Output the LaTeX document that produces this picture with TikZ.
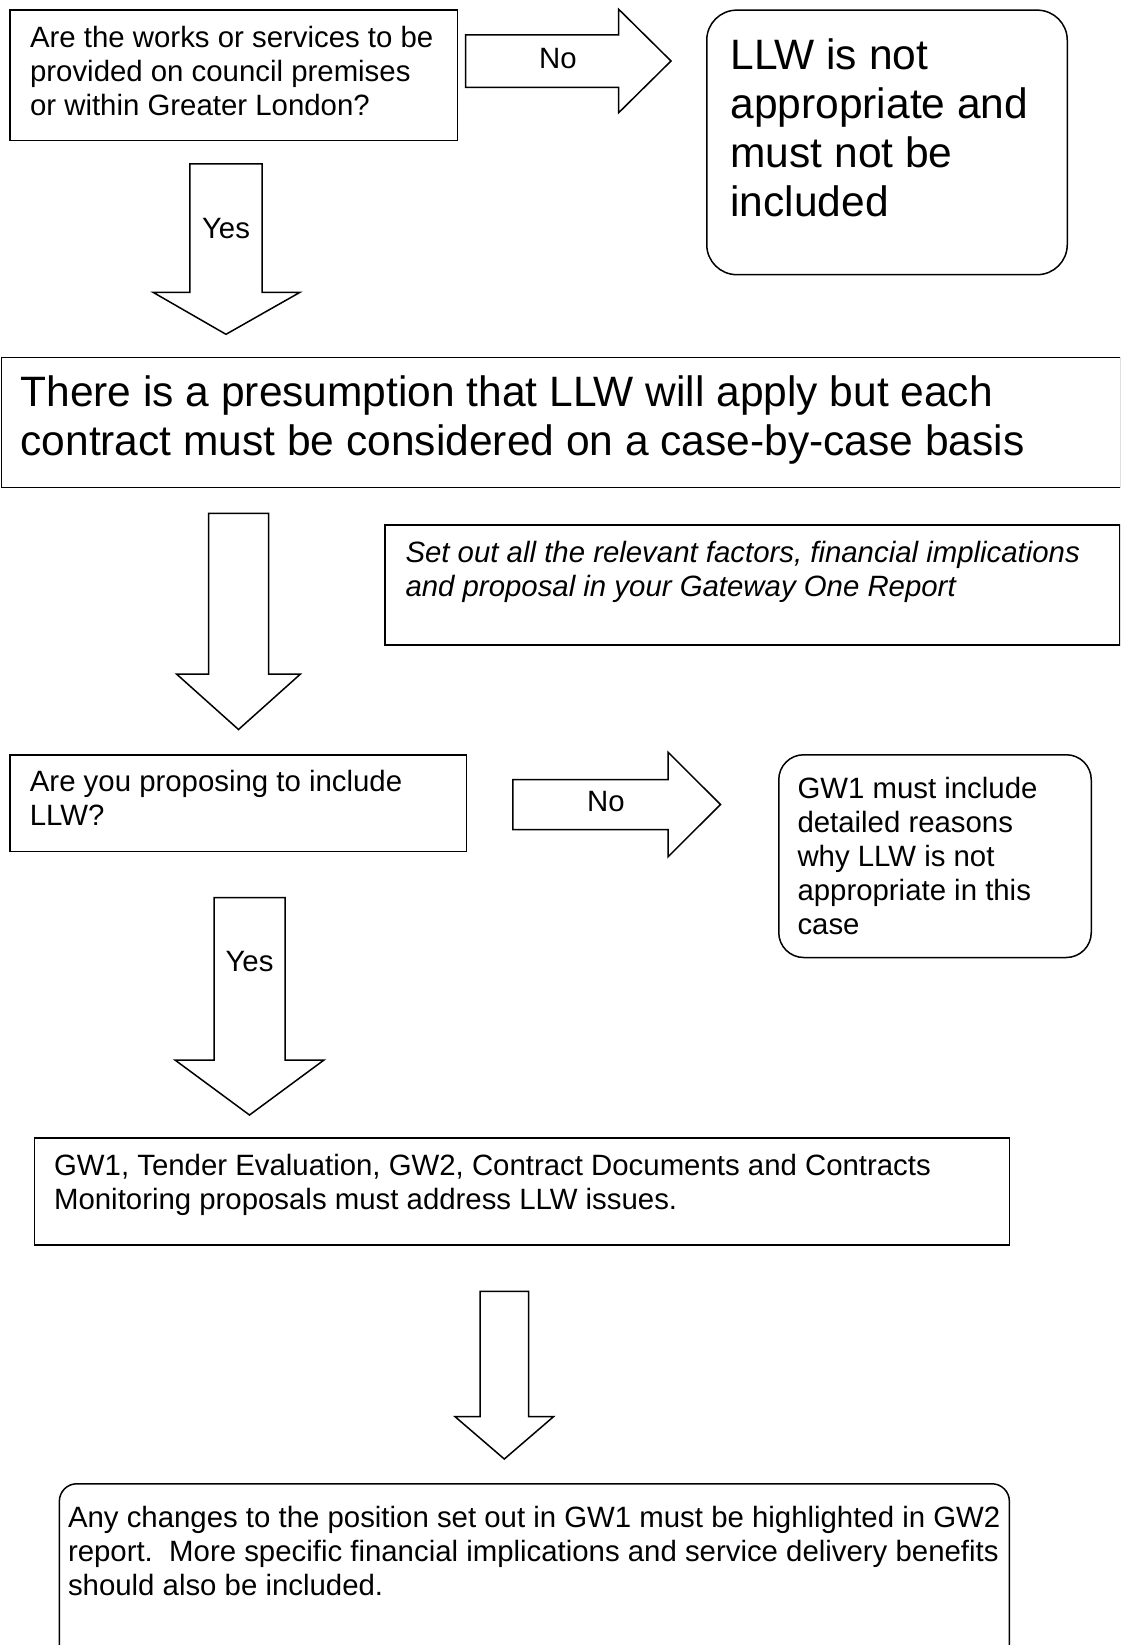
\documentclass[tikz,border=0pt]{standalone}
\usepackage{fontspec}
\setmainfont{Liberation Sans}

\tikzset{
    flowbox/.style={draw, line width=0.6pt, anchor=north west, inner sep=0pt},
    roundbox/.style={flowbox, rounded corners=#1},
    roundbox/.default=10pt,
    boxtext/.style={anchor=base west, inner sep=0pt, align=left, font=\fontsize{11.75pt}{13.6pt}\selectfont},
    bigtext/.style={boxtext, font=\fontsize{17pt}{19.6pt}\selectfont},
    blockarrow/.style={draw, line width=0.6pt, line join=miter, fill=white},
    arrowlabel/.style={inner sep=0pt, font=\fontsize{11.75pt}{13.6pt}\selectfont}
}

\begin{document}
\begin{tikzpicture}[x=0.4pt, y=-0.4pt]
        % Page frame
        \useasboundingbox (0,0) rectangle (1120,1645);
        \clip (0,0) rectangle (1120,1645);

        % First question and the No branch (text nodes sit on the baseline of their last line)
        \node[flowbox, minimum width=179.0pt, minimum height=52.2pt] (askpremises) at (9.4,9.4) {};
        \node[boxtext] (askpremisestext) at (29.6,116) {Are the works or services to be\\provided on council premises\\or within Greater London?};
        \draw[blockarrow] (465.6,35) -- (618.7,35) -- (618.7,9.3) -- (671,61) -- (618.7,112.7) -- (618.7,87.3) -- (465.6,87.3) -- cycle;
        \node[arrowlabel] (nopremises) at (558,59) {No};
        \node[roundbox=12pt, minimum width=144.2pt, minimum height=105.8pt] (notapplicable) at (706,9.4) {};
        \node[bigtext] (notapplicabletext) at (730,217) {LLW is not\\appropriate and\\must not be\\included};

        % Yes branch down to the presumption
        \draw[blockarrow] (189.8,164) -- (262.2,164) -- (262.2,292.3) -- (300,292.3) -- (226,334.3) -- (153,292.3) -- (189.8,292.3) -- cycle;
        \node[arrowlabel] (yespremises) at (226,229) {Yes};
        \node[flowbox, minimum width=447.6pt, minimum height=52.1pt] (presumption) at (0.8,356.5) {};
        \node[bigtext] (presumptiontext) at (20,455.5) {There is a presumption that LLW will apply but each\\contract must be considered on a case-by-case basis};

        % Note on the Gateway One Report
        \node[flowbox, minimum width=294.1pt, minimum height=48pt] (reportnote) at (384,524) {};
        \node[boxtext, font=\fontsize{11.75pt}{13.6pt}\selectfont\itshape] (reportnotetext) at (405,596) {Set out all the relevant factors, financial implications\\and proposal in your Gateway One Report};
        \draw[blockarrow] (208.5,513.3) -- (268.5,513.3) -- (268.5,674) -- (300.5,674) -- (238.5,729.5) -- (176.5,674) -- (208.5,674) -- cycle;

        % Second question and the No branch
        \node[flowbox, minimum width=182.5pt, minimum height=38.7pt] (askinclude) at (9.4,754) {};
        \node[boxtext] (askincludetext) at (29.4,825) {Are you proposing to include\\LLW?};
        \draw[blockarrow] (512.8,779.5) -- (668,779.5) -- (668,752.2) -- (720.5,804.5) -- (668,856.8) -- (668,829.5) -- (512.8,829.5) -- cycle;
        \node[arrowlabel] (noinclude) at (606,802) {No};
        \node[roundbox=10pt, minimum width=125.0pt, minimum height=81.1pt] (givereasons) at (778,754) {};
        \node[boxtext] (givereasonstext) at (797,934) {GW1 must include\\detailed reasons\\why LLW is not\\appropriate in this\\case};

        % Yes branch down to the gateway documents
        \draw[blockarrow] (214,897.7) -- (285,897.7) -- (285,1060) -- (324,1060) -- (249.5,1115) -- (175,1060) -- (214,1060) -- cycle;
        \node[arrowlabel] (yesinclude) at (249.5,961.6) {Yes};
        \node[flowbox, minimum width=390pt, minimum height=42.8pt] (addressissues) at (33.6,1137) {};
        \node[boxtext] (addressissuestext) at (53.6,1209.5) {GW1, Tender Evaluation, GW2, Contract Documents and Contracts\\Monitoring proposals must address LLW issues.};

        % Down to the GW2 report
        \draw[blockarrow] (480,1291.3) -- (528.6,1291.3) -- (528.6,1416.6) -- (553.6,1416.6) -- (504.3,1459) -- (455,1416.6) -- (480,1416.6) -- cycle;
        \node[roundbox=7pt, minimum width=380pt, minimum height=86.8pt] (highlightchanges) at (58.6,1483) {};
        \node[boxtext] (highlightchangestext) at (67.5,1595) {Any changes to the position set out in GW1 must be highlighted in GW2\\report.\ \ More specific financial implications and service delivery benefits\\should also be included.};
    \end{tikzpicture}
\end{document}
